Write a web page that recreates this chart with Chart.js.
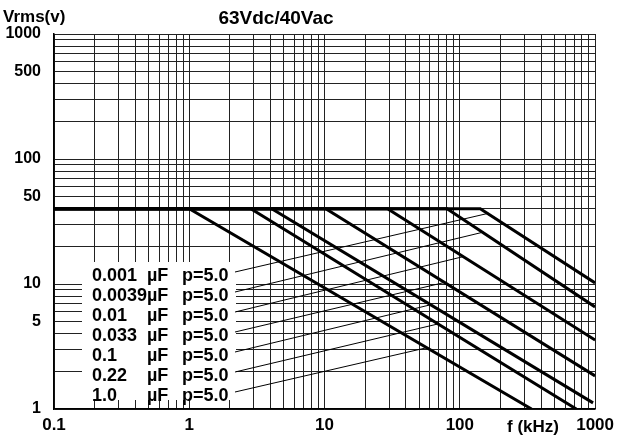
<!DOCTYPE html>
<html>
<head>
<meta charset="utf-8">
<script src="https://cdn.jsdelivr.net/npm/chart.js@4"></script>
<style>
  body { margin: 0; background: #fff; }
  canvas { display: block; }
</style>
</head>
<body>
<canvas id="myChart" width="620" height="443"></canvas>
<script>
const ctx = document.getElementById('myChart');

// capacitance (uF) of each curve, pitch 5.0
const capacitors = ['0.001', '0.0039', '0.01', '0.033', '0.1', '0.22', '1.0'];
const flatVoltage = 40;                                      // Vrms plateau
const startFreq = 0.1;                                       // kHz
const breakFreq = [141.6, 80.5, 29.2, 10.2, 4.07, 2.85, 1.0]; // kHz where the curve leaves 40 V
const endFreq = [1000, 1000, 1000, 1000, 966, 726, 339];     // kHz
const endVoltage = [10.2, 6.55, 3.56, 1.84, 1.12, 1, 1];     // Vrms

// where each label's leader line touches its curve
const leaderFreq = [163, 149, 107, 77.4, 61.5, 68.9, 57.5];
const leaderVolt = [36.8, 26.0, 16.6, 10.3, 6.84, 4.79, 3.10];

const xTickLabels = ['0.1', '1', '10', '100', '1000'];
const yTickLabels = ['1', '5', '10', '50', '100', '500', '1000'];

function logGrid(from, to) {
    const vals = [];
    for (let d = from; d < to; d *= 10) {
        for (let m = 1; m < 10; m++) vals.push(+(m * d).toPrecision(3));
    }
    vals.push(to);
    return vals;
}
const xGrid = logGrid(0.1, 1000);
const yGrid = logGrid(1, 1000);

const datasets = capacitors.map((c, i) => ({
    label: c + ' uF',
    data: [
        { x: startFreq, y: flatVoltage },
        { x: breakFreq[i], y: flatVoltage },
        { x: endFreq[i], y: endVoltage[i] }
    ],
    borderColor: '#000',
    borderWidth: 3,
    pointRadius: 0,
    fill: false
}));

const FONT = 'Liberation Sans, Arial, sans-serif';

const textPlugin = {
    id: 'texts',
    beforeDatasetsDraw(chart) {
        const c = chart.ctx;
        const a = chart.chartArea;
        // white panel behind the legend text
        c.save();
        c.fillStyle = '#fff';
        c.fillRect(a.left + 28, 262, 154, 138);
        c.restore();
    },
    afterDatasetsDraw(chart) {
        const c = chart.ctx;
        const x = chart.scales.x, y = chart.scales.y;
        c.save();
        c.fillStyle = '#000';
        c.strokeStyle = '#000';
        c.textBaseline = 'alphabetic';

        c.font = 'bold 19px ' + FONT;
        c.textAlign = 'center';
        c.fillText('63Vdc/40Vac', 276, 24);

        c.font = 'bold 17px ' + FONT;
        c.textAlign = 'left';
        c.fillText('Vrms(v)', 3, 22);

        c.textAlign = 'center';
        c.fillText('f (kHz)', 533, 432);

        c.font = 'bold 18px ' + FONT;
        c.textAlign = 'left';
        capacitors.forEach((cap, i) => {
            const rowY = 274 + i * 20;
            c.fillText(cap, 92, rowY + 6.5);
            c.fillText('\u00b5F', 147, rowY + 6.5);
            c.fillText('p=5.0', 182, rowY + 6.5);
            c.lineWidth = 1;
            c.beginPath();
            c.moveTo(235, rowY - 2);
            c.lineTo(x.getPixelForValue(leaderFreq[i]), y.getPixelForValue(leaderVolt[i]));
            c.stroke();
        });
        c.restore();
    }
};

new Chart(ctx, {
    type: 'line',
    data: { datasets: datasets },
    options: {
        responsive: false,
        animation: false,
        devicePixelRatio: 1,
        layout: { padding: { top: 34, right: 21, left: 0, bottom: 0 } },
        plugins: {
            legend: { display: false },
            tooltip: { enabled: false }
        },
        scales: {
            x: {
                type: 'logarithmic',
                min: 0.1,
                max: 1000,
                afterBuildTicks: axis => { axis.ticks = xGrid.map(v => ({ value: v })); },
                afterFit: axis => { axis.height = 34; },
                grid: { color: '#222', lineWidth: 1, drawTicks: false },
                border: { color: '#000', width: 1.5 },
                ticks: {
                    autoSkip: false,
                    maxRotation: 0,
                    padding: 6,
                    color: '#000',
                    font: { family: FONT, size: 17, weight: 'bold' },
                    callback: v => {
                        const s = String(+v.toPrecision(3));
                        return xTickLabels.includes(s) ? s : '';
                    }
                }
            },
            y: {
                type: 'logarithmic',
                min: 1,
                max: 1000,
                afterBuildTicks: axis => { axis.ticks = yGrid.map(v => ({ value: v })); },
                afterFit: axis => { axis.width = 54; },
                grid: { color: '#222', lineWidth: 1, drawTicks: false },
                border: { color: '#000', width: 1.5 },
                ticks: {
                    autoSkip: false,
                    padding: 13,
                    color: '#000',
                    font: { family: FONT, size: 16, weight: 'bold' },
                    callback: v => {
                        const s = String(+v.toPrecision(3));
                        return yTickLabels.includes(s) ? s : '';
                    }
                }
            }
        }
    },
    plugins: [textPlugin]
});
</script>
</body>
</html>
